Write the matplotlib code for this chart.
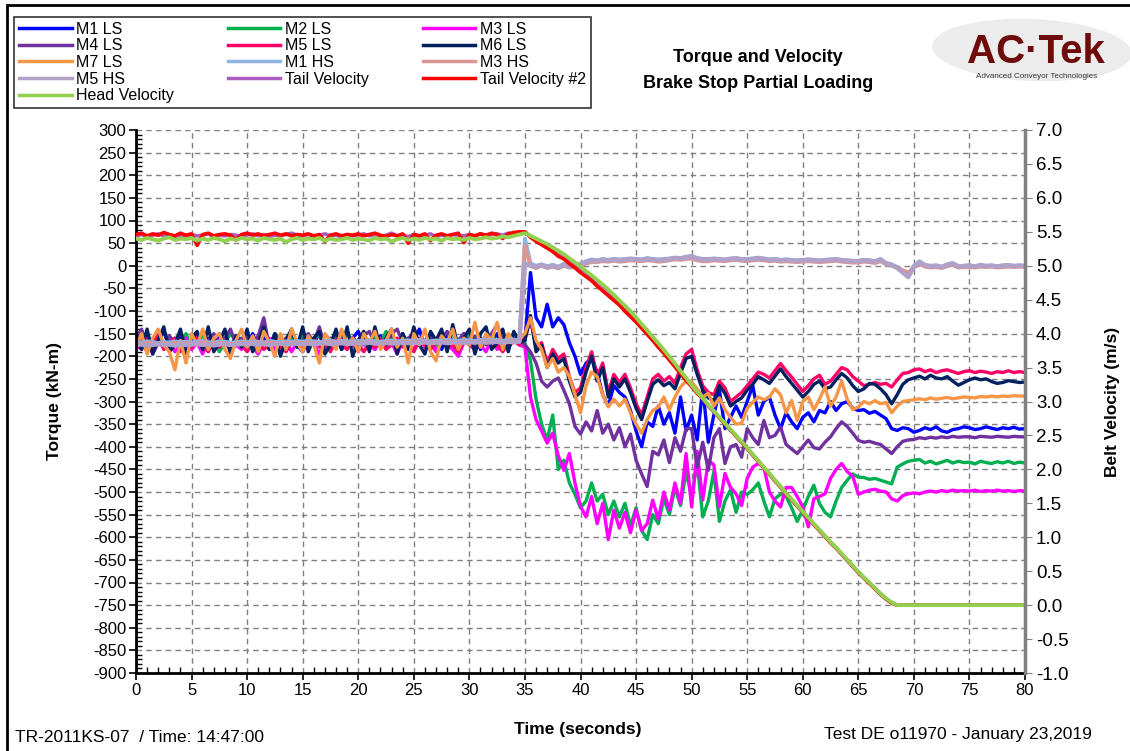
import matplotlib.pyplot as plt
from matplotlib.patches import Ellipse, Rectangle
from matplotlib.ticker import MultipleLocator, FormatStrFormatter
import numpy as np

plt.rcParams['font.family'] = ['Liberation Sans', 'DejaVu Sans']
plt.rcParams['axes.unicode_minus'] = False

# sample times (s), 0.5 s spacing
t = np.arange(0, 80.25, 0.5)

# ---- torque, kN-m (0-34.5 s, then 35-80 s) ----
m1_ls = [-160, -175, -150, -185, -165, -145, -180, -170, -155, -190,
         -165, -150, -175, -160, -185, -150, -170, -180, -155, -165,
         -175, -150, -185, -160, -170, -155, -180, -165, -150, -175,
         -190, -160, -170, -150, -180, -165, -155, -185, -170, -160,
         -145, -175, -165, -185, -155, -170, -160, -180, -150, -175,
         -165, -140, -180, -160, -170, -185, -155, -165, -175, -150,
         -170, -160, -185, -155, -170, -150, -175, -165, -160, -170] + \
        [-165, -15, -115, -135, -85, -135, -115, -130, -170, -200,
         -240, -215, -205, -235, -285, -310, -265, -280, -290, -320,
         -365, -400, -345, -355, -310, -350, -325, -370, -290, -365,
         -330, -385, -270, -390, -330, -275, -360, -335, -310, -335,
         -300, -265, -330, -300, -290, -330, -360, -325, -345, -360,
         -335, -325, -345, -320, -325, -300, -320, -305, -300, -315,
         -320, -318, -326, -322, -330, -338, -360, -364, -358, -360,
         -368, -364, -358, -362, -356, -365, -368, -362, -360, -356,
         -358, -362, -360, -356, -359, -362, -358, -360, -357, -361,
         -360]

m2_ls = [-170, -155, -180, -165, -150, -175, -185, -160, -170, -150,
         -180, -165, -155, -175, -160, -190, -170, -150, -165, -180,
         -160, -175, -155, -170, -185, -150, -165, -175, -160, -180,
         -155, -170, -165, -150, -185, -170, -160, -175, -150, -165,
         -180, -155, -170, -160, -175, -145, -165, -185, -160, -170,
         -150, -175, -165, -155, -180, -160, -170, -150, -175, -165,
         -155, -180, -160, -170, -150, -175, -160, -165, -170, -160] + \
        [-170, -210, -295, -350, -385, -330, -450, -430, -480, -505,
         -535, -520, -480, -520, -505, -550, -520, -555, -525, -575,
         -535, -585, -605, -550, -570, -515, -550, -490, -530, -455,
         -510, -435, -555, -520, -455, -565, -520, -495, -545, -500,
         -505, -495, -480, -520, -555, -515, -505, -510, -535, -565,
         -540, -510, -485, -525, -545, -555, -520, -490, -474, -460,
         -467, -468, -472, -470, -474, -478, -482, -445, -438, -432,
         -430, -428, -436, -432, -438, -434, -430, -436, -432, -435,
         -434, -438, -432, -435, -437, -433, -436, -432, -437, -434,
         -436]

m3_ls = [-175, -185, -160, -195, -170, -180, -165, -190, -175, -160,
         -185, -170, -195, -165, -180, -170, -160, -190, -175, -185,
         -165, -180, -195, -170, -160, -185, -175, -165, -190, -170,
         -180, -160, -175, -195, -165, -185, -170, -160, -180, -175,
         -190, -165, -175, -185, -160, -180, -170, -195, -165, -175,
         -185, -160, -180, -170, -190, -165, -175, -185, -200, -170,
         -165, -180, -175, -190, -160, -185, -170, -180, -165, -175] + \
        [-180, -290, -340, -365, -392, -370, -420, -452, -415, -480,
         -532, -555, -510, -570, -525, -605, -540, -580, -545, -590,
         -540, -585, -570, -518, -560, -500, -540, -480, -525, -415,
         -533, -410, -518, -430, -440, -533, -459, -490, -504, -530,
         -470, -445, -437, -445, -500, -520, -533, -490, -490, -510,
         -533, -577, -515, -510, -504, -470, -450, -437, -455, -465,
         -505, -500, -496, -494, -498, -500, -515, -520, -508, -504,
         -502, -504, -500, -498, -500, -497, -499, -496, -498, -497,
         -498, -496, -499, -497, -498, -496, -498, -497, -499, -497,
         -498]

m4_ls = [-160, -140, -175, -165, -150, -180, -155, -170, -145, -175,
         -160, -150, -185, -165, -150, -170, -160, -140, -175, -160,
         -160, -170, -155, -115, -180, -150, -170, -160, -145, -175,
         -165, -150, -170, -135, -180, -160, -165, -150, -175, -160,
         -170, -155, -145, -175, -160, -180, -150, -140, -170, -160,
         -150, -175, -165, -155, -170, -160, -145, -175, -165, -150,
         -170, -155, -160, -175, -150, -130, -165, -170, -150, -160] + \
        [-175, -190, -215, -255, -268, -255, -248, -275, -305, -355,
         -372, -345, -365, -320, -370, -350, -385, -358, -400, -372,
         -430, -460, -488, -410, -418, -385, -435, -380, -410, -360,
         -360, -445, -390, -452, -380, -360, -437, -400, -395, -423,
         -360, -380, -395, -342, -380, -375, -356, -395, -405, -415,
         -400, -385, -402, -405, -390, -378, -360, -345, -355, -370,
         -386, -390, -388, -392, -395, -405, -415, -400, -388, -385,
         -384, -380, -382, -379, -381, -378, -380, -377, -379, -378,
         -378, -380, -377, -378, -379, -377, -378, -379, -377, -378,
         -378]

m5_ls = [-180, -165, -190, -170, -155, -185, -175, -160, -190, -170,
         -180, -160, -175, -190, -165, -180, -170, -185, -160, -175,
         -190, -170, -165, -185, -175, -160, -180, -190, -170, -165,
         -185, -175, -160, -180, -170, -190, -165, -175, -185, -160,
         -175, -190, -170, -180, -165, -185, -175, -160, -180, -170,
         -190, -165, -175, -185, -170, -160, -180, -175, -190, -165,
         -175, -185, -170, -160, -180, -175, -190, -170, -165, -175] + \
        [-160, -120, -180, -170, -215, -185, -205, -195, -245, -280,
         -270, -225, -190, -245, -215, -280, -240, -258, -240, -270,
         -305, -330, -290, -250, -240, -255, -245, -260, -225, -195,
         -185, -230, -265, -280, -285, -255, -270, -300, -290, -280,
         -265, -250, -235, -240, -248, -232, -216, -232, -246, -262,
         -278, -265, -250, -242, -262, -255, -240, -225, -230, -245,
         -255, -265, -262, -258, -262, -260, -268, -252, -238, -236,
         -230, -228, -234, -230, -236, -232, -230, -234, -238, -234,
         -232, -236, -233, -235, -238, -234, -236, -232, -236, -234,
         -236]

m6_ls = [-150, -185, -140, -195, -165, -135, -190, -175, -140, -200,
         -160, -145, -185, -135, -190, -170, -140, -195, -155, -180,
         -140, -190, -170, -135, -185, -150, -200, -165, -140, -180,
         -135, -190, -160, -145, -195, -175, -140, -185, -135, -200,
         -165, -145, -190, -135, -180, -160, -140, -195, -150, -185,
         -135, -175, -195, -145, -165, -140, -190, -130, -180, -160,
         -140, -195, -150, -135, -185, -170, -140, -190, -145, -170] + \
        [-165, -110, -190, -175, -225, -195, -215, -205, -255, -290,
         -280, -235, -200, -255, -225, -290, -250, -268, -250, -280,
         -315, -340, -300, -262, -252, -265, -258, -272, -238, -205,
         -200, -240, -275, -292, -298, -265, -282, -310, -300, -292,
         -275, -262, -245, -252, -260, -244, -228, -245, -260, -275,
         -290, -278, -262, -255, -272, -268, -252, -238, -248, -265,
         -278, -272, -260, -262, -272, -285, -305, -285, -262, -252,
         -248, -244, -250, -242, -248, -250, -245, -255, -264, -258,
         -252, -248, -252, -250, -256, -260, -258, -254, -256, -258,
         -257]

m7_ls = [-180, -150, -195, -160, -140, -175, -190, -230, -165, -215,
         -150, -175, -140, -185, -160, -150, -185, -205, -165, -140,
         -180, -155, -190, -145, -170, -200, -150, -185, -140, -170,
         -190, -155, -175, -215, -150, -165, -185, -140, -175, -160,
         -190, -150, -170, -145, -185, -165, -140, -180, -160, -215,
         -150, -175, -140, -190, -210, -155, -170, -140, -185, -160,
         -175, -125, -180, -150, -165, -125, -185, -150, -170, -160] + \
        [-150, -115, -165, -185, -225, -205, -235, -225, -245, -285,
         -325, -265, -235, -245, -285, -312, -295, -310, -295, -325,
         -350, -370, -340, -320, -312, -290, -318, -290, -268, -255,
         -257, -272, -290, -282, -310, -292, -318, -335, -350, -348,
         -315, -302, -290, -296, -290, -272, -285, -325, -298, -342,
         -300, -290, -318, -295, -268, -310, -290, -255, -295, -318,
         -312, -300, -305, -298, -305, -302, -325, -310, -300, -298,
         -296, -294, -296, -292, -295, -293, -291, -294, -292, -290,
         -291, -292, -289, -290, -288, -290, -288, -289, -287, -288,
         -288]

m1_hs = [-168, -170, -167, -169, -171, -168, -170, -167, -169, -168,
         -170, -168, -166, -169, -170, -167, -168, -170, -169, -167,
         -169, -167, -168, -170, -166, -168, -169, -167, -168, -166,
         -168, -166, -167, -169, -167, -165, -168, -166, -167, -168,
         -166, -167, -165, -167, -168, -166, -165, -167, -166, -165,
         -166, -164, -166, -167, -165, -166, -164, -165, -166, -164,
         -165, -166, -164, -163, -165, -164, -166, -164, -163, -165] + \
        [60, 5, 0, 3, -1, 2, -2, 4, 0, 2,
         5, 10, 14, 12, 15, 13, 15, 14, 15, 16,
         15, 14, 17, 15, 14, 15, 16, 18, 17, 20,
         22, 17, 15, 15, 16, 15, 14, 16, 17, 15,
         15, 16, 18, 16, 14, 15, 13, 14, 13, 12,
         13, 14, 13, 12, 13, 14, 15, 13, 12, 11,
         11, 13, 12, 10, 15, 6, 3, -3, -12, -20,
         0, 10, 2, 0, 1, -2, 3, 6, -1, 0,
         1, -1, 2, 0, 1, -1, 1, 2, 0, 1,
         0]

m3_hs = [-171, -173, -170, -172, -174, -171, -173, -170, -172, -171,
         -173, -171, -169, -172, -173, -170, -171, -173, -172, -170,
         -172, -170, -171, -173, -169, -171, -172, -170, -171, -169,
         -171, -169, -170, -172, -170, -168, -171, -169, -170, -171,
         -169, -170, -168, -170, -171, -169, -168, -170, -169, -168,
         -169, -167, -169, -170, -168, -169, -167, -168, -169, -167,
         -168, -169, -167, -166, -168, -167, -169, -167, -166, -168] + \
        [45, 0, -5, 0, -5, -2, -6, 0, -4, -3,
         0, 5, 8, 8, 10, 9, 11, 9, 10, 12,
         11, 10, 12, 11, 9, 10, 12, 14, 13, 15,
         16, 12, 10, 10, 12, 11, 10, 12, 13, 11,
         10, 12, 13, 12, 10, 11, 9, 10, 9, 8,
         9, 10, 9, 8, 9, 10, 11, 9, 8, 7,
         7, 9, 8, 6, 10, 3, 0, -4, -10, -15,
         -4, 4, -2, -4, -3, -5, -1, 2, -4, -3,
         -3, -4, -2, -3, -2, -4, -3, -2, -3, -2,
         -3]

m5_hs = [-175, -174, -176, -175, -173, -175, -174, -176, -174, -175,
         -174, -173, -175, -174, -176, -174, -173, -175, -174, -173,
         -174, -172, -174, -173, -175, -173, -172, -174, -173, -172,
         -173, -172, -174, -172, -171, -173, -172, -171, -173, -172,
         -171, -172, -170, -172, -171, -170, -172, -171, -170, -171,
         -170, -171, -169, -171, -170, -169, -171, -170, -169, -170,
         -169, -170, -168, -170, -169, -168, -170, -168, -169, -168] + \
        [5, 0, -2, 2, -3, 0, -4, 2, -2, 0,
         3, 8, 12, 11, 13, 12, 14, 12, 13, 15,
         14, 13, 15, 14, 12, 13, 15, 17, 16, 18,
         20, 16, 14, 13, 15, 14, 13, 15, 16, 14,
         13, 15, 17, 15, 13, 14, 12, 13, 12, 11,
         12, 13, 12, 11, 12, 13, 14, 12, 11, 10,
         10, 12, 11, 9, 14, 5, 2, -5, -15, -25,
         -2, 8, 1, -2, 0, -3, 2, 5, -2, -1,
         0, -2, 1, -1, 0, -2, 0, 1, -1, 0,
         -1]

# ---- belt velocity, m/s ----
tail_vel = [5.44, 5.46, 5.43, 5.45, 5.47, 5.44, 5.46, 5.43, 5.45, 5.44,
            5.46, 5.44, 5.45, 5.47, 5.43, 5.45, 5.44, 5.46, 5.45, 5.43,
            5.45, 5.47, 5.44, 5.46, 5.43, 5.45, 5.44, 5.46, 5.48, 5.45,
            5.44, 5.46, 5.43, 5.45, 5.47, 5.44, 5.45, 5.43, 5.46, 5.44,
            5.45, 5.47, 5.44, 5.46, 5.43, 5.45, 5.48, 5.44, 5.45, 5.43,
            5.46, 5.44, 5.45, 5.47, 5.43, 5.45, 5.44, 5.46, 5.45, 5.44,
            5.46, 5.44, 5.47, 5.45, 5.46, 5.47, 5.45, 5.48, 5.47, 5.49] + \
           [5.49, 5.43, 5.39, 5.34, 5.30, 5.25, 5.20, 5.15, 5.09, 5.03,
            4.97, 4.90, 4.84, 4.77, 4.70, 4.63, 4.55, 4.47, 4.39, 4.31,
            4.22, 4.12, 4.03, 3.94, 3.84, 3.74, 3.64, 3.54, 3.44, 3.33,
            3.23, 3.13, 3.04, 2.94, 2.85, 2.76, 2.67, 2.58, 2.49, 2.40,
            2.31, 2.21, 2.12, 2.02, 1.93, 1.83, 1.74, 1.64, 1.55, 1.46,
            1.37, 1.28, 1.19, 1.10, 1.01, 0.92, 0.84, 0.75, 0.66, 0.57,
            0.48, 0.40, 0.32, 0.24, 0.16, 0.09, 0.03, 0.0, 0.0, 0.0] + [0.0] * 21

tail_vel2 = [5.46, 5.48, 5.44, 5.47, 5.45, 5.49, 5.46, 5.44, 5.48, 5.45,
             5.47, 5.30, 5.46, 5.48, 5.44, 5.46, 5.47, 5.45, 5.38, 5.46,
             5.48, 5.45, 5.47, 5.44, 5.46, 5.48, 5.45, 5.47, 5.44, 5.46,
             5.45, 5.47, 5.44, 5.46, 5.36, 5.45, 5.47, 5.44, 5.46, 5.45,
             5.47, 5.44, 5.46, 5.48, 5.45, 5.43, 5.46, 5.44, 5.47, 5.33,
             5.46, 5.44, 5.47, 5.37, 5.45, 5.47, 5.44, 5.46, 5.48, 5.34,
             5.46, 5.44, 5.47, 5.45, 5.48, 5.46, 5.40, 5.47, 5.49, 5.50] + \
            [5.50, 5.42, 5.36, 5.31, 5.26, 5.21, 5.14, 5.10, 5.03, 4.97,
             4.90, 4.84, 4.78, 4.70, 4.63, 4.56, 4.49, 4.42, 4.33, 4.25,
             4.17, 4.08, 3.99, 3.90, 3.80, 3.71, 3.61, 3.51, 3.41, 3.31,
             3.22, 3.12, 3.04, 2.94, 2.85, 2.76, 2.67, 2.58, 2.49, 2.40,
             2.31, 2.21, 2.12, 2.02, 1.93, 1.83, 1.74, 1.64, 1.55, 1.46,
             1.37, 1.28, 1.19, 1.10, 1.01, 0.92, 0.84, 0.75, 0.66, 0.57,
             0.48, 0.40, 0.32, 0.24, 0.16, 0.09, 0.03, 0.0, 0.0, 0.0] + [0.0] * 21

head_vel = [5.40, 5.38, 5.41, 5.39, 5.37, 5.40, 5.42, 5.38, 5.40, 5.39,
            5.41, 5.37, 5.40, 5.38, 5.41, 5.39, 5.36, 5.40, 5.38, 5.41,
            5.39, 5.40, 5.37, 5.41, 5.39, 5.38, 5.40, 5.35, 5.39, 5.41,
            5.38, 5.40, 5.39, 5.41, 5.37, 5.40, 5.38, 5.39, 5.41, 5.38,
            5.40, 5.39, 5.37, 5.41, 5.39, 5.40, 5.36, 5.39, 5.41, 5.38,
            5.40, 5.38, 5.41, 5.39, 5.40, 5.37, 5.41, 5.39, 5.40, 5.38,
            5.41, 5.39, 5.40, 5.42, 5.40, 5.41, 5.43, 5.42, 5.44, 5.46] + \
           [5.48, 5.44, 5.40, 5.36, 5.32, 5.27, 5.22, 5.17, 5.11, 5.05,
            4.99, 4.92, 4.86, 4.79, 4.72, 4.65, 4.57, 4.49, 4.41, 4.33,
            4.24, 4.14, 4.05, 3.95, 3.86, 3.76, 3.66, 3.56, 3.45, 3.35,
            3.24, 3.14, 3.05, 2.95, 2.86, 2.77, 2.68, 2.59, 2.50, 2.41,
            2.32, 2.22, 2.13, 2.03, 1.94, 1.84, 1.75, 1.65, 1.56, 1.47,
            1.38, 1.29, 1.20, 1.11, 1.02, 0.93, 0.85, 0.76, 0.67, 0.58,
            0.49, 0.41, 0.33, 0.25, 0.17, 0.10, 0.04, 0.0, 0.0, 0.0] + [0.0] * 21

torque_series = [
    ("M1 LS", m1_ls, "#0000ff", 2.4),
    ("M2 LS", m2_ls, "#00b050", 2.4),
    ("M3 LS", m3_ls, "#ff00ff", 2.4),
    ("M4 LS", m4_ls, "#7030a0", 2.4),
    ("M5 LS", m5_ls, "#ff0066", 2.4),
    ("M6 LS", m6_ls, "#002060", 2.4),
    ("M7 LS", m7_ls, "#f79646", 2.4),
    ("M1 HS", m1_hs, "#8db4e2", 2.8),
    ("M3 HS", m3_hs, "#da9694", 2.8),
    ("M5 HS", m5_hs, "#b1a0c7", 3.2),
]
velocity_series = [
    ("Tail Velocity", tail_vel, "#ab5ec0", 2.6),
    ("Tail Velocity #2", tail_vel2, "#ff0000", 2.6),
    ("Head Velocity", head_vel, "#92d050", 2.8),
]


def chart():
    fig = plt.figure(figsize=(11.3, 7.51), dpi=100)
    L, R, T, B = 136, 1025, 130, 673
    ax = fig.add_axes([L / 1130, 1 - B / 751, (R - L) / 1130, (B - T) / 751])

    handles = []
    for name, vals, col, lw in torque_series:
        h, = ax.plot(t, vals, color=col, lw=lw, label=name)
        handles.append(h)

    ax.set_xlim(0, 80)
    ax.set_ylim(-900, 300)
    ax.xaxis.set_major_locator(MultipleLocator(5))
    ax.xaxis.set_minor_locator(MultipleLocator(1))
    ax.yaxis.set_major_locator(MultipleLocator(50))
    ax.yaxis.set_minor_locator(MultipleLocator(10))
    ax.tick_params(which='major', direction='out', length=5, width=1.2, labelsize=12, pad=2)
    ax.tick_params(which='minor', direction='in', length=4, width=1)
    ax.grid(True, which='major', color='#808080', linestyle=(0, (4, 3)), linewidth=1)
    ax.set_axisbelow(True)
    for s in ['left', 'bottom']:
        ax.spines[s].set_linewidth(2)
    ax.spines['top'].set_visible(False)
    ax.spines['right'].set_visible(False)

    ax.set_ylabel("Torque (kN-m)", fontsize=12.5, fontweight='bold')
    ax.yaxis.set_label_coords(-0.083, 0.5)
    ax.set_xlabel("Time (seconds)", fontsize=12.5, fontweight='bold')
    ax.xaxis.set_label_coords(0.497, -0.09)

    ax2 = ax.twinx()
    for name, vals, col, lw in velocity_series:
        h, = ax2.plot(t, vals, color=col, lw=lw, label=name)
        handles.append(h)
    ax2.set_ylim(-1, 7)
    ax2.yaxis.set_major_locator(MultipleLocator(0.5))
    ax2.yaxis.set_major_formatter(FormatStrFormatter('%.1f'))
    ax2.tick_params(axis='y', direction='out', length=5, color='#808080', labelsize=13.5, pad=3)
    for s in ['left', 'top', 'bottom']:
        ax2.spines[s].set_visible(False)
    ax2.spines['right'].set_color('#808080')
    ax2.spines['right'].set_linewidth(2.5)
    ax2.set_ylabel("Belt Velocity (m/s)", fontsize=12.5, fontweight='bold')
    ax2.yaxis.set_label_coords(1.09, 0.5)

    # legend filled row by row, like the original
    order = [0, 3, 6, 9, 12, 1, 4, 7, 10, 2, 5, 8, 11]
    leg = fig.legend([handles[i] for i in order], [handles[i].get_label() for i in order],
                     ncol=3, loc='upper left', mode='expand',
                     bbox_to_anchor=(14 / 1130, 1 - 108 / 751, 577 / 1130, 91 / 751),
                     bbox_transform=fig.transFigure, borderaxespad=0, fontsize=11.5,
                     handlelength=3.3, handletextpad=0.3, labelspacing=0.1,
                     borderpad=0.3, fancybox=False, edgecolor='black')
    leg.get_frame().set_linewidth(1.2)
    for ln in leg.get_lines():
        ln.set_linewidth(2.5)

    fig.text(758 / 1130, 1 - 58 / 751, "Torque and Velocity", ha='center', va='center',
             fontsize=13, fontweight='bold')
    fig.text(758 / 1130, 1 - 83 / 751, "Brake Stop Partial Loading", ha='center', va='center',
             fontsize=13, fontweight='bold')

    # logo
    fig.add_artist(Ellipse((1032 / 1130, 1 - 50 / 751), 200 / 1130, 62 / 751, angle=-4,
                           transform=fig.transFigure, facecolor='#ececec', edgecolor='none'))
    fig.text(1036 / 1130, 1 - 52 / 751, "AC\u00b7Tek", ha='center', va='center',
             fontsize=29, fontweight='heavy', color='#6e0b0b')
    fig.text(1037 / 1130, 1 - 76 / 751, "Advanced Conveyor Technologies", ha='center',
             va='center', fontsize=5.8, color='#333333')

    fig.text(15 / 1130, 1 - 738 / 751, "TR-2011KS-07  / Time: 14:47:00", ha='left',
             va='center', fontsize=12.5)
    fig.text(1092 / 1130, 1 - 735 / 751, "Test DE o11970 - January 23,2019", ha='right',
             va='center', fontsize=12.5)

    # outer frame
    fig.add_artist(Rectangle((7 / 1130, -0.1), 1.2, 1.1 - 5 / 751, transform=fig.transFigure,
                             fill=False, edgecolor='black', linewidth=2))

    fig.savefig("out.png", dpi=100)


if __name__ == '__main__':
    chart()
